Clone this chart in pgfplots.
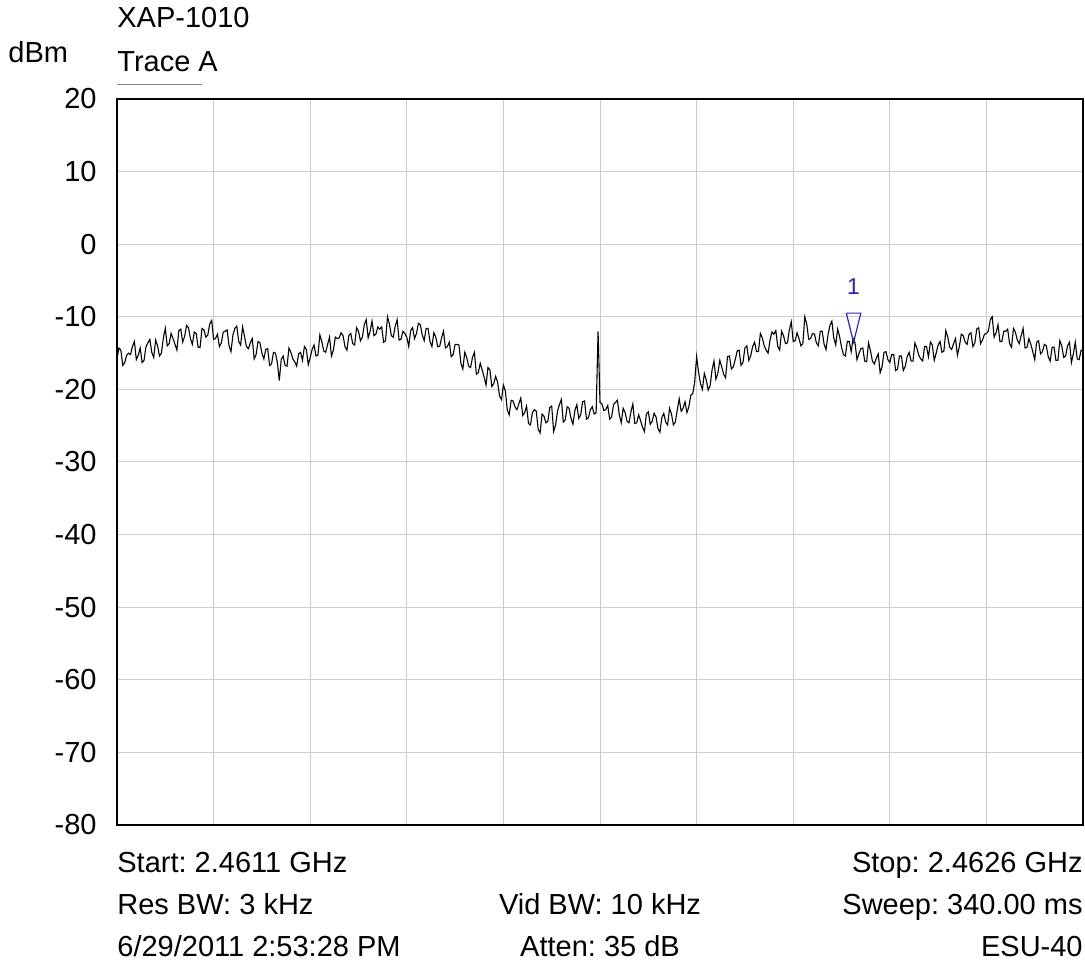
\documentclass[border=0pt]{standalone}
\usepackage{pgfplots}
\pgfplotsset{compat=1.18}
\usepackage{fontspec}
\setmainfont{Liberation Sans}
\definecolor{gridgray}{RGB}{204,204,204}
\definecolor{mkblue}{RGB}{40,40,170}
\newcommand{\bigf}{\fontsize{14.5}{17}\selectfont}
\begin{document}
\frenchspacing
\bigf
\begin{tikzpicture}
\begin{axis}[
  at={(0pt,0pt)}, anchor=south west,
  scale only axis, width=483pt, height=363pt,
  xmin=0, xmax=1000, ymin=-80, ymax=20,
  xtick={0,100,...,1000}, xticklabels={},
  ytick={-80,-70,...,20},
  yticklabels={-80,-70,-60,-50,-40,-30,-20,-10,0,10,20},
  yticklabel style={inner sep=0pt, xshift=-10pt, font=\bigf},
  major tick length=0pt,
  grid=major,
  major grid style={gridgray, line width=0.5pt},
  axis line style={black, line width=1pt},
  clip=true,
]
\addplot[black, line width=0.55pt] table {
0 -15.8
2 -14.3
4 -14.6
6 -16.7
8 -16.3
10 -15.3
12 -15.0
14 -15.2
16 -14.1
18 -13.4
20 -15.9
22 -15.3
24 -14.3
26 -16.3
28 -16.0
30 -14.1
32 -13.6
34 -13.1
36 -14.9
38 -15.6
40 -13.2
42 -14.0
44 -15.4
46 -15.0
48 -12.9
50 -11.6
52 -14.0
54 -13.7
56 -12.3
58 -13.0
60 -13.8
62 -14.6
64 -11.9
66 -11.7
68 -13.5
70 -12.7
72 -11.2
74 -11.5
76 -13.0
78 -13.8
80 -12.1
82 -12.3
84 -14.2
86 -14.2
88 -11.6
90 -11.8
92 -12.8
94 -12.5
96 -11.0
98 -10.5
100 -13.1
102 -13.0
104 -12.4
106 -14.1
108 -13.6
110 -12.1
112 -12.0
114 -11.8
116 -14.0
118 -14.8
120 -12.5
122 -11.6
124 -11.3
126 -13.4
128 -13.9
130 -11.4
132 -12.7
134 -14.1
136 -14.4
138 -13.6
140 -13.0
142 -15.8
144 -15.2
146 -13.4
148 -13.6
150 -15.0
152 -15.8
154 -14.5
156 -14.4
158 -16.7
160 -16.5
162 -14.9
164 -15.0
166 -16.3
168 -18.8
170 -15.9
172 -15.4
174 -16.7
176 -16.8
178 -14.3
180 -14.9
182 -15.8
184 -16.2
186 -16.8
188 -15.1
190 -14.9
192 -16.0
194 -14.1
196 -14.5
198 -16.6
200 -15.6
202 -14.5
204 -13.9
206 -15.4
208 -15.3
210 -12.5
212 -13.4
214 -14.7
216 -14.9
218 -13.8
220 -12.8
222 -15.4
224 -14.6
226 -12.8
228 -13.0
230 -12.9
232 -12.2
234 -12.6
236 -14.1
238 -14.6
240 -12.6
242 -12.3
244 -13.7
246 -13.9
248 -11.5
250 -12.0
252 -13.3
254 -12.8
256 -11.1
258 -10.4
260 -12.9
262 -12.0
264 -10.6
266 -12.6
268 -12.4
270 -11.4
272 -11.7
274 -11.4
276 -13.5
278 -13.3
280 -10.0
282 -11.0
284 -12.6
286 -12.8
288 -11.3
290 -10.4
292 -13.2
294 -13.1
296 -12.0
298 -12.3
300 -12.8
302 -14.1
304 -11.9
306 -11.5
308 -13.0
310 -12.3
312 -10.9
314 -11.1
316 -12.5
318 -13.3
320 -11.6
322 -11.6
324 -13.4
326 -14.1
328 -12.2
330 -12.8
332 -14.1
334 -14.1
336 -12.9
338 -12.0
340 -14.3
342 -14.1
344 -13.5
346 -15.5
348 -15.2
350 -13.8
352 -13.8
354 -13.9
356 -16.4
358 -17.2
360 -14.9
362 -15.6
364 -16.8
366 -17.0
368 -15.6
370 -14.9
372 -17.9
374 -17.7
376 -16.4
378 -17.3
380 -18.3
382 -19.4
384 -17.0
386 -17.3
388 -19.6
390 -19.2
392 -18.2
394 -19.0
396 -20.9
398 -21.4
400 -19.4
402 -20.2
404 -22.8
406 -23.5
408 -21.5
410 -21.6
412 -22.4
414 -22.8
416 -22.0
418 -21.2
420 -23.6
422 -23.2
424 -22.3
426 -24.7
428 -24.9
430 -23.2
432 -22.8
434 -23.0
436 -25.5
438 -26.0
440 -23.4
442 -23.7
444 -24.6
446 -24.4
448 -22.5
450 -22.3
452 -25.8
454 -24.9
456 -23.0
458 -22.1
460 -21.4
462 -24.5
464 -24.2
466 -22.4
468 -22.6
470 -24.0
472 -24.8
474 -22.9
476 -22.1
478 -24.0
480 -23.5
482 -21.7
484 -21.6
486 -24.1
488 -23.9
490 -22.8
492 -22.4
494 -23.4
496 -23.2
498 -12.0
500 -21.8
502 -22.0
504 -22.9
506 -22.8
508 -22.2
510 -24.1
512 -23.8
514 -22.1
516 -21.8
518 -21.5
520 -23.5
522 -24.6
524 -22.6
526 -23.2
528 -24.4
530 -24.6
532 -23.1
534 -22.0
536 -24.7
538 -24.6
540 -23.5
542 -24.3
544 -25.2
546 -25.8
548 -23.4
550 -23.1
552 -24.8
554 -24.4
556 -23.3
558 -23.8
560 -25.4
562 -25.9
564 -23.9
566 -23.3
568 -24.5
570 -24.9
572 -22.6
574 -23.4
576 -24.9
578 -24.5
580 -22.8
582 -21.3
584 -23.0
586 -22.6
588 -21.7
590 -23.2
592 -22.4
594 -20.8
596 -20.6
598 -19.0
600 -15.5
602 -17.6
604 -19.2
606 -20.0
608 -17.8
610 -18.7
612 -20.1
614 -19.5
616 -17.3
618 -16.1
620 -18.6
622 -17.8
624 -16.0
626 -16.9
628 -17.9
630 -18.4
632 -15.5
634 -15.4
636 -17.2
638 -16.9
640 -15.9
642 -14.7
644 -14.6
646 -16.7
648 -16.3
650 -14.3
652 -14.0
654 -16.0
656 -15.4
658 -14.1
660 -13.5
662 -14.8
664 -14.8
666 -12.3
668 -12.9
670 -14.0
672 -14.6
674 -15.0
676 -13.2
678 -12.1
680 -12.4
682 -11.9
684 -14.1
686 -14.6
688 -12.0
690 -12.6
692 -13.7
694 -13.6
696 -11.8
698 -10.7
700 -13.4
702 -13.3
704 -12.2
706 -13.0
708 -14.0
710 -13.7
712 -10.0
714 -11.0
716 -13.1
718 -13.0
720 -12.3
722 -12.4
724 -13.6
726 -14.0
728 -12.0
730 -12.0
732 -13.8
734 -14.5
736 -12.5
738 -11.2
740 -10.6
742 -12.9
744 -13.9
746 -11.7
748 -12.7
750 -14.2
752 -15.2
754 -15.4
756 -13.4
758 -13.4
760 -14.8
762 -13.0
764 -13.6
766 -15.9
768 -15.1
770 -14.4
772 -14.3
774 -16.1
776 -16.2
778 -13.6
780 -14.7
782 -16.1
784 -16.5
786 -15.7
788 -15.1
790 -17.7
792 -16.9
794 -14.9
796 -14.8
798 -15.9
800 -16.3
802 -15.2
804 -15.2
806 -17.4
808 -17.2
810 -15.4
812 -15.4
814 -17.4
816 -16.8
818 -15.5
820 -14.9
822 -16.1
824 -16.1
826 -13.6
828 -14.3
830 -15.3
832 -15.8
834 -16.1
836 -14.1
838 -14.1
840 -15.5
842 -13.5
844 -13.9
846 -16.0
848 -15.0
850 -13.9
852 -13.4
854 -14.9
856 -14.7
858 -11.9
860 -12.8
862 -14.2
864 -14.5
866 -13.7
868 -13.0
870 -15.3
872 -14.1
874 -12.4
876 -12.6
878 -13.5
880 -13.8
882 -12.4
884 -12.2
886 -14.1
888 -13.6
890 -11.7
892 -11.5
894 -13.7
896 -13.2
898 -12.4
900 -12.3
902 -12.0
904 -10.4
906 -10.0
908 -12.8
910 -12.2
912 -11.1
914 -13.4
916 -13.4
918 -12.0
920 -12.0
922 -11.7
924 -13.7
926 -14.2
928 -11.6
930 -12.1
932 -13.2
934 -13.7
936 -12.6
938 -11.6
940 -14.3
942 -14.2
944 -13.0
946 -13.8
948 -14.8
950 -15.9
952 -13.5
954 -13.3
956 -15.1
958 -14.8
960 -13.8
962 -14.0
964 -15.5
966 -16.1
968 -14.2
970 -14.2
972 -16.0
974 -16.0
976 -13.3
978 -14.0
980 -15.6
982 -15.4
984 -14.0
986 -13.5
988 -16.3
990 -15.1
992 -13.5
994 -15.8
996 -15.9
998 -14.6
1000 -14.7
};
\addplot[mkblue, line width=0.6pt] coordinates {(755,-9.5)(770,-9.5)(762.5,-13.5)(755,-9.5)};
\node[mkblue, font=\fontsize{11.5}{13}\selectfont] at (axis cs:762.5,-5.9) {1};
\end{axis}
\node[anchor=base west, inner sep=0pt] at (0pt,398.5pt) {XAP-1010};
\node[anchor=base west, inner sep=0pt] at (0pt,376.5pt) {Trace A};
\draw[gray, line width=0.5pt] (0pt,370pt) -- (42.5pt,370pt);
\node[anchor=base west, inner sep=0pt] at (-54.5pt,381pt) {dBm};
\node[anchor=base west, inner sep=0pt] at (0pt,-23.75pt) {Start: 2.4611 GHz};
\node[anchor=base west, inner sep=0pt] at (0pt,-44.75pt) {Res BW: 3 kHz};
\node[anchor=base west, inner sep=0pt] at (0pt,-65.75pt) {6/29/2011 2:53:28 PM};
\node[anchor=base, inner sep=0pt] at (241.5pt,-44.75pt) {Vid BW: 10 kHz};
\node[anchor=base, inner sep=0pt] at (241.5pt,-65.75pt) {Atten: 35 dB};
\node[anchor=base east, inner sep=0pt] at (483pt,-23.75pt) {Stop: 2.4626 GHz};
\node[anchor=base east, inner sep=0pt] at (483pt,-44.75pt) {Sweep: 340.00 ms};
\node[anchor=base east, inner sep=0pt] at (483pt,-65.75pt) {ESU-40};
\pgfresetboundingbox
\path (-58.5pt,-71pt) rectangle (484pt,412.5pt);
\end{tikzpicture}
\end{document}
